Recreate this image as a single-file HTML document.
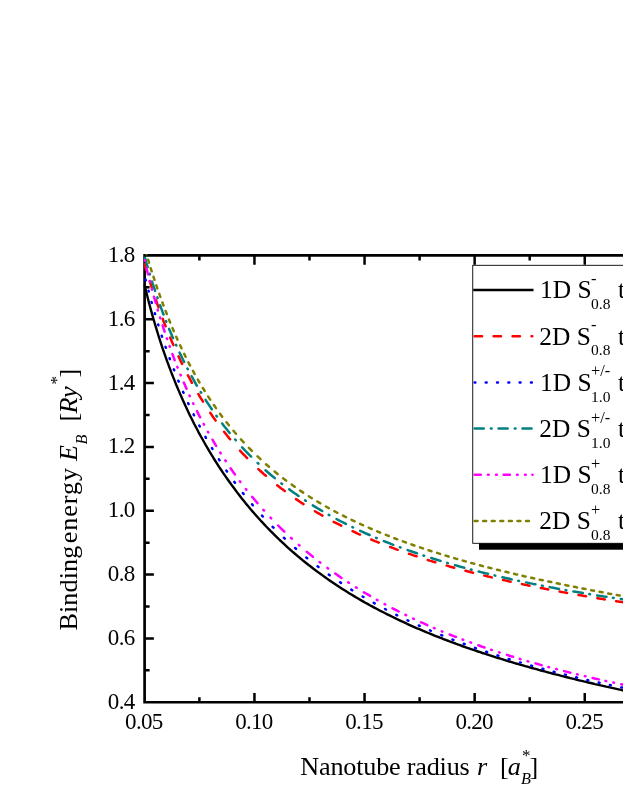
<!DOCTYPE html>
<html><head><meta charset="utf-8"><title>chart</title>
<style>
html,body{margin:0;padding:0;background:#fff;}
body{width:623px;height:806px;overflow:hidden;}
svg{display:block;will-change:transform;}
text{font-family:"Liberation Serif",serif;fill:#000;}
.i{font-style:italic;}
</style></head><body>
<svg width="623" height="806" viewBox="0 0 623 806">
<defs><clipPath id="plot"><rect x="143.3" y="254.2" width="500" height="449.3"/></clipPath></defs>
<g stroke="#000" fill="none" stroke-linecap="butt">
<path d="M143.25,255.45 H700 M143.25,702.25 H700 M144.60,254.10 V703.60" stroke-width="2.70"/>
<path d="M199.40,702.25 v-5.00 M199.40,255.45 v5.00 M254.45,702.25 v-9.30 M254.45,255.45 v9.30 M309.50,702.25 v-5.00 M309.50,255.45 v5.00 M364.55,702.25 v-9.30 M364.55,255.45 v9.30 M419.60,702.25 v-5.00 M419.60,255.45 v5.00 M474.65,702.25 v-9.30 M474.65,255.45 v9.30 M529.70,702.25 v-5.00 M529.70,255.45 v5.00 M584.75,702.25 v-9.30 M584.75,255.45 v9.30 M639.80,702.25 v-5.00 M639.80,255.45 v5.00 M694.85,702.25 v-9.30 M694.85,255.45 v9.30 M749.90,702.25 v-5.00 M749.90,255.45 v5.00 M144.60,670.34 h5.00 M144.60,638.42 h9.30 M144.60,606.51 h5.00 M144.60,574.59 h9.30 M144.60,542.68 h5.00 M144.60,510.76 h9.30 M144.60,478.85 h5.00 M144.60,446.94 h9.30 M144.60,415.02 h5.00 M144.60,383.11 h9.30 M144.60,351.19 h5.00 M144.60,319.28 h9.30 M144.60,287.36 h5.00 " stroke-width="2.50"/>
</g>
<g clip-path="url(#plot)" fill="none" stroke-width="2.50" stroke-linecap="round" stroke-linejoin="round">
<path d="M144.6,285.3 146.9,294.5 149.1,303.2 151.4,311.6 153.6,319.5 155.9,327.2 158.1,334.5 160.4,341.6 162.6,348.3 164.9,354.9 167.1,361.2 169.4,367.3 171.6,373.2 173.9,378.9 176.1,384.5 178.4,389.9 180.6,395.1 182.9,400.2 185.1,405.1 187.4,410.0 189.6,414.7 191.9,419.2 194.1,423.7 196.4,428.0 198.6,432.3 200.9,436.5 203.2,440.5 205.4,444.5 207.7,448.4 209.9,452.2 212.2,455.9 214.4,459.5 216.7,463.1 218.9,466.6 221.2,470.0 223.4,473.3 225.7,476.6 227.9,479.8 230.2,483.0 232.4,486.1 234.7,489.1 236.9,492.1 239.2,495.1 241.4,497.9 243.7,500.8 245.9,503.6 248.2,506.3 250.4,509.0 252.7,511.6 255.0,514.2 257.2,516.7 259.5,519.2 261.7,521.7 264.0,524.1 266.2,526.5 268.5,528.8 270.7,531.1 273.0,533.4 275.2,535.6 277.5,537.8 279.7,540.0 282.0,542.1 284.2,544.2 286.5,546.3 288.7,548.3 291.0,550.3 293.2,552.3 295.5,554.2 297.7,556.1 300.0,558.0 302.2,559.9 304.5,561.7 306.7,563.5 309.0,565.3 311.3,567.0 313.5,568.8 315.8,570.5 318.0,572.1 320.3,573.8 322.5,575.4 324.8,577.0 327.0,578.6 329.3,580.2 331.5,581.7 333.8,583.3 336.0,584.8 338.3,586.3 340.5,587.7 342.8,589.2 345.0,590.6 347.3,592.0 349.5,593.4 351.8,594.8 354.0,596.1 356.3,597.5 358.5,598.8 360.8,600.1 363.0,601.4 365.3,602.7 367.6,603.9 369.8,605.2 372.1,606.4 374.3,607.6 376.6,608.8 378.8,610.0 381.1,611.2 383.3,612.3 385.6,613.5 387.8,614.6 390.1,615.7 392.3,616.8 394.6,617.9 396.8,619.0 399.1,620.1 401.3,621.1 403.6,622.2 405.8,623.2 408.1,624.3 410.3,625.3 412.6,626.3 414.8,627.3 417.1,628.3 419.4,629.2 421.6,630.2 423.9,631.1 426.1,632.1 428.4,633.0 430.6,633.9 432.9,634.9 435.1,635.8 437.4,636.7 439.6,637.5 441.9,638.4 444.1,639.3 446.4,640.2 448.6,641.0 450.9,641.9 453.1,642.7 455.4,643.5 457.6,644.4 459.9,645.2 462.1,646.0 464.4,646.8 466.6,647.6 468.9,648.4 471.1,649.2 473.4,649.9 475.7,650.7 477.9,651.5 480.2,652.2 482.4,653.0 484.7,653.7 486.9,654.4 489.2,655.2 491.4,655.9 493.7,656.6 495.9,657.3 498.2,658.0 500.4,658.7 502.7,659.4 504.9,660.1 507.2,660.8 509.4,661.5 511.7,662.1 513.9,662.8 516.2,663.5 518.4,664.1 520.7,664.8 522.9,665.4 525.2,666.1 527.4,666.7 529.7,667.4 532.0,668.0 534.2,668.6 536.5,669.2 538.7,669.9 541.0,670.5 543.2,671.1 545.5,671.7 547.7,672.3 550.0,672.9 552.2,673.5 554.5,674.1 556.7,674.6 559.0,675.2 561.2,675.8 563.5,676.4 565.7,677.0 568.0,677.5 570.2,678.1 572.5,678.6 574.7,679.2 577.0,679.8 579.2,680.3 581.5,680.8 583.8,681.4 586.0,681.9 588.3,682.5 590.5,683.0 592.8,683.5 595.0,684.1 597.3,684.6 599.5,685.1 601.8,685.6 604.0,686.1 606.3,686.7 608.5,687.2 610.8,687.7 613.0,688.2 615.3,688.7 617.5,689.2 619.8,689.7 622.0,690.2 624.3,690.7 626.5,691.2 628.8,691.7 631.0,692.1 633.3,692.6 635.5,693.1 637.8,693.6" stroke="#000000" stroke-width="2.4"/>
<path d="M144.6,264.2 145.1,266.0 145.7,267.9 146.3,269.8M149.7,281.1 150.3,283.0 150.9,284.9 151.5,286.7 152.1,288.6M155.9,299.9 156.6,301.8 157.2,303.7 157.9,305.6 158.5,307.4M162.7,318.8 163.4,320.7 164.1,322.5 164.9,324.4 165.6,326.3M170.2,337.6 171.0,339.5 171.8,341.4 172.6,343.2 173.4,345.1M178.5,356.4 179.4,358.3 180.3,360.2 181.2,362.1 182.1,363.9M187.9,375.3 188.9,377.1 189.9,379.0 190.9,380.9 191.9,382.8M198.4,394.1 199.5,396.0 200.6,397.8 201.8,399.7 203.0,401.6M210.3,412.9 211.6,414.8 212.9,416.7 214.2,418.6 215.6,420.4M224.1,431.8 225.5,433.6 227.0,435.5 228.6,437.4 230.1,439.3M240.0,450.6 241.7,452.5 243.5,454.3 245.3,456.2 247.1,458.1M258.4,469.1 260.2,470.8 262.1,472.5 264.0,474.2 265.9,475.8M277.2,485.2 279.1,486.7 280.9,488.2 282.8,489.6 284.7,491.0M296.0,499.1 297.9,500.4 299.8,501.7 301.6,502.9 303.5,504.1M314.9,511.2 316.7,512.3 318.6,513.4 320.5,514.5 322.4,515.6M333.7,521.8 335.6,522.8 337.4,523.7 339.3,524.7 341.2,525.7M352.5,531.2 354.4,532.0 356.3,532.9 358.1,533.8 360.0,534.6M371.3,539.5 373.2,540.3 375.1,541.1 377.0,541.8 378.8,542.6M390.2,547.0 392.0,547.7 393.9,548.4 395.8,549.1 397.7,549.8M409.0,553.8 410.9,554.4 412.8,555.1 414.6,555.7 416.5,556.3M427.8,560.0 429.7,560.6 431.6,561.1 433.5,561.7 435.3,562.3M446.7,565.6 448.5,566.1 450.4,566.7 452.3,567.2 454.2,567.7M465.5,570.8 467.4,571.3 469.2,571.8 471.1,572.3 473.0,572.7M484.3,575.6 486.2,576.0 488.1,576.5 489.9,576.9 491.8,577.4M503.1,580.0 505.0,580.4 506.9,580.8 508.8,581.3 510.6,581.7M522.0,584.1 523.9,584.5 525.7,584.9 527.6,585.3 529.5,585.7M540.8,588.0 542.7,588.3 544.6,588.7 546.4,589.1 548.3,589.4M559.6,591.6 561.5,591.9 563.4,592.3 565.3,592.6 567.1,592.9M578.5,595.0 580.3,595.3 582.2,595.6 584.1,595.9 586.0,596.3M597.3,598.2 599.2,598.5 601.0,598.8 602.9,599.1 604.8,599.4M616.1,601.2 618.0,601.5 619.9,601.8 621.8,602.1 623.6,602.3M635.0,604.0 636.4,604.3 637.8,604.5" stroke="#ff0000"/>
<path d="M145.6,279.5 145.8,280.4M148.5,290.7 148.7,291.6M151.5,302.0 151.8,302.9M154.8,313.2 155.0,314.1M158.2,324.4 158.4,325.3M161.7,335.7 162.0,336.6M165.5,346.9 165.9,347.8M169.6,358.2 169.9,359.1M173.8,369.4 174.2,370.3M178.3,380.7 178.7,381.6M183.1,391.9 183.5,392.8M188.2,403.2 188.6,404.1M193.6,414.4 194.0,415.3M199.3,425.6 199.8,426.5M205.4,436.9 205.9,437.8M212.0,448.1 212.5,449.0M218.9,459.4 219.5,460.3M226.4,470.6 227.0,471.5M234.3,481.9 235.0,482.8M242.9,493.1 243.6,494.0M252.1,504.3 252.8,505.2M262.0,515.6 262.8,516.5M272.6,526.8 273.5,527.7M283.9,537.8 284.8,538.6M295.1,548.0 296.0,548.8M306.3,557.5 307.2,558.2M317.6,566.3 318.5,567.0M328.8,574.6 329.7,575.2M340.1,582.3 341.0,582.9M351.3,589.6 352.2,590.2M362.6,596.5 363.5,597.0M373.8,602.9 374.7,603.4M385.1,609.0 385.9,609.5M396.3,614.8 397.2,615.3M407.5,620.3 408.4,620.7M418.8,625.5 419.7,625.9M430.0,630.4 430.9,630.8M441.3,635.1 442.2,635.5M452.5,639.6 453.4,639.9M463.8,643.8 464.7,644.1M475.0,647.9 475.9,648.2M486.2,651.7 487.1,652.0M497.5,655.4 498.4,655.7M508.7,659.0 509.6,659.3M520.0,662.4 520.9,662.6M531.2,665.6 532.1,665.9M542.5,668.7 543.4,669.0M553.7,671.7 554.6,672.0M565.0,674.6 565.9,674.8M576.2,677.3 577.1,677.6M587.4,680.0 588.3,680.2M598.7,682.5 599.6,682.7M609.9,685.0 610.8,685.2M621.2,687.4 622.1,687.5M632.4,689.6 633.3,689.8" stroke="#0000ff"/>
<path d="M145.0,257.8 145.7,260.1 146.3,262.5 147.0,264.8 147.7,267.1M149.7,273.7 149.9,274.4M152.1,281.5 152.8,283.8 153.6,286.2 154.3,288.5 155.1,290.8M157.3,297.4 157.6,298.1M160.1,305.2 160.9,307.5 161.8,309.9 162.6,312.2 163.5,314.5M166.0,321.1 166.3,321.8M169.1,328.9 170.1,331.2 171.1,333.5 172.1,335.9 173.1,338.2M176.0,344.8 176.3,345.5M179.5,352.6 180.7,354.9 181.8,357.2 182.9,359.6 184.1,361.9M187.4,368.5 187.8,369.2M191.6,376.2 192.9,378.6 194.2,380.9 195.5,383.3 196.8,385.6M200.7,392.1 201.2,392.8M205.6,399.9 207.1,402.3 208.7,404.6 210.2,406.9 211.8,409.3M216.4,415.8 216.9,416.5M222.2,423.6 224.0,426.0 225.9,428.3 227.7,430.6 229.6,433.0M235.2,439.5 235.8,440.2M242.1,447.3 244.3,449.7 246.5,452.0 248.8,454.3 251.1,456.7M257.7,463.0 258.4,463.7M265.5,470.2 267.8,472.2 270.1,474.2 272.5,476.2 274.8,478.1M281.4,483.4 282.1,483.9M289.2,489.3 291.5,491.0 293.8,492.7 296.2,494.3 298.5,496.0M305.1,500.4 305.8,500.8M312.8,505.4 315.2,506.8 317.5,508.2 319.9,509.6 322.2,511.0M328.7,514.8 329.4,515.2M336.5,519.0 338.9,520.3 341.2,521.5 343.5,522.7 345.9,523.9M352.4,527.1 353.1,527.5M360.2,530.8 362.6,531.9 364.9,533.0 367.2,534.0 369.6,535.0M376.1,537.8 376.8,538.1M383.9,541.1 386.2,542.0 388.6,542.9 390.9,543.9 393.3,544.8M399.8,547.2 400.5,547.5M407.6,550.1 409.9,550.9 412.3,551.7 414.6,552.5 417.0,553.3M423.5,555.5 424.2,555.8M431.3,558.0 433.6,558.8 436.0,559.5 438.3,560.2 440.6,560.9M447.2,562.9 447.9,563.1M455.0,565.1 457.3,565.8 459.7,566.5 462.0,567.1 464.3,567.7M470.9,569.5 471.6,569.7M478.7,571.5 481.0,572.1 483.3,572.7 485.7,573.3 488.0,573.8M494.6,575.4 495.3,575.6M502.4,577.2 504.7,577.8 507.0,578.3 509.4,578.8 511.7,579.4M518.3,580.8 519.0,580.9M526.1,582.4 528.4,582.9 530.7,583.4 533.1,583.9 535.4,584.3M542.0,585.6 542.7,585.8M549.7,587.1 552.1,587.6 554.4,588.0 556.8,588.5 559.1,588.9M565.6,590.1 566.3,590.2M573.4,591.4 575.8,591.8 578.1,592.2 580.4,592.6 582.8,593.0M589.3,594.1 590.0,594.2M597.1,595.4 599.5,595.8 601.8,596.1 604.1,596.5 606.5,596.8M613.0,597.8 613.7,597.9M620.8,599.0 623.1,599.3 625.5,599.7 627.8,600.0 630.2,600.3M636.7,601.3 637.4,601.3" stroke="#008080"/>
<path d="M144.6,260.3 144.8,261.0M146.5,268.2 147.0,270.3 147.5,272.3 148.1,274.4M149.8,281.1 150.0,281.8M151.8,288.9 152.0,289.6M154.0,296.8 154.6,298.8 155.2,300.9 155.8,303.0M157.7,309.7 157.9,310.4M160.1,317.5 160.3,318.2M162.6,325.4 163.2,327.4 163.9,329.5 164.6,331.6M166.8,338.3 167.1,339.0M169.5,346.1 169.8,346.8M172.4,354.0 173.2,356.0 173.9,358.1 174.7,360.2M177.3,366.9 177.6,367.6M180.5,374.7 180.8,375.4M183.8,382.6 184.7,384.6 185.6,386.7 186.5,388.8M189.5,395.5 189.8,396.2M193.1,403.3 193.5,404.0M197.0,411.1 198.0,413.2 199.1,415.3 200.1,417.3M203.7,424.0 204.0,424.7M207.9,431.8 208.3,432.5M212.5,439.7 213.7,441.8 214.9,443.9 216.1,445.9M220.3,452.6 220.7,453.3M225.3,460.4 225.8,461.1M230.6,468.3 232.1,470.4 233.5,472.5 235.0,474.5M239.9,481.2 240.4,481.9M245.9,489.0 246.4,489.7M252.2,496.9 254.0,499.0 255.7,501.0 257.5,503.1M263.3,509.8 264.0,510.5M270.5,517.6 271.2,518.3M278.2,525.5 280.2,527.6 282.3,529.6 284.3,531.6M291.0,537.9 291.8,538.6M298.8,544.9 299.5,545.5M306.7,551.7 308.8,553.4 310.9,555.1 312.9,556.8M319.6,562.0 320.3,562.6M327.4,567.9 328.1,568.4M335.3,573.6 337.4,575.1 339.5,576.5 341.5,577.9M348.2,582.4 348.9,582.8M356.0,587.4 356.7,587.8M363.9,592.3 366.0,593.5 368.1,594.7 370.1,595.9M376.8,599.8 377.5,600.2M384.6,604.1 385.3,604.5M392.5,608.3 394.6,609.4 396.6,610.4 398.7,611.5M405.4,614.8 406.1,615.2M413.2,618.6 413.9,618.9M421.1,622.3 423.2,623.2 425.2,624.1 427.3,625.1M434.0,628.0 434.7,628.3M441.8,631.3 442.5,631.6M449.7,634.5 451.8,635.3 453.8,636.1 455.9,637.0M462.6,639.5 463.3,639.8M470.4,642.4 471.1,642.7M478.3,645.3 480.3,646.0 482.4,646.8 484.5,647.5M491.2,649.8 491.9,650.0M499.0,652.3 499.7,652.6M506.9,654.9 508.9,655.5 511.0,656.2 513.1,656.8M519.8,658.9 520.5,659.1M527.6,661.2 528.3,661.4M535.5,663.4 537.5,664.0 539.6,664.6 541.7,665.2M548.4,667.0 549.1,667.2M556.2,669.1 556.9,669.2M564.1,671.1 566.1,671.6 568.2,672.1 570.3,672.7M577.0,674.3 577.7,674.5M584.8,676.2 585.5,676.3M592.6,678.0 594.7,678.5 596.8,678.9 598.8,679.4M605.5,680.9 606.2,681.1M613.3,682.6 614.0,682.7M621.2,684.2 623.3,684.7 625.4,685.1 627.4,685.5M634.1,686.9 634.8,687.0" stroke="#ff00ff"/>
<path d="M145.6,251.2 146.0,252.7 146.5,254.2M148.1,259.7 148.6,261.2 149.0,262.7M150.7,268.3 151.2,269.8 151.7,271.3M153.5,276.8 154.0,278.3 154.5,279.8M156.3,285.4 156.8,286.9 157.3,288.4M159.3,293.9 159.8,295.4 160.4,296.9M162.4,302.5 162.9,304.0 163.5,305.5M165.6,311.0 166.2,312.5 166.8,314.0M169.0,319.6 169.6,321.1 170.2,322.6M172.5,328.1 173.1,329.6 173.8,331.1M176.2,336.7 176.9,338.2 177.5,339.7M180.1,345.3 180.8,346.8 181.5,348.3M184.2,353.8 184.9,355.3 185.6,356.8M188.4,362.4 189.2,363.9 190.0,365.4M193.0,370.9 193.8,372.4 194.6,373.9M197.8,379.5 198.6,381.0 199.5,382.5M202.8,388.0 203.8,389.5 204.7,391.0M208.2,396.6 209.2,398.1 210.2,399.6M213.9,405.1 215.0,406.6 216.0,408.1M220.0,413.7 221.1,415.2 222.2,416.7M226.5,422.2 227.7,423.7 228.9,425.2M233.5,430.8 234.7,432.3 236.0,433.8M240.9,439.3 242.3,440.8 243.7,442.3M248.9,447.9 250.4,449.4 251.9,450.9M257.5,456.3 259.0,457.7 260.5,459.1M266.0,464.2 267.5,465.5 269.0,466.8M274.6,471.5 276.1,472.7 277.6,473.9M283.1,478.3 284.6,479.4 286.1,480.6M291.7,484.6 293.2,485.7 294.7,486.8M300.2,490.6 301.7,491.6 303.2,492.6M308.8,496.2 310.3,497.2 311.8,498.1M317.3,501.5 318.8,502.4 320.3,503.3M325.9,506.5 327.4,507.3 328.9,508.2M334.4,511.2 335.9,512.0 337.4,512.8M343.0,515.6 344.5,516.4 346.0,517.1M351.6,519.9 353.1,520.6 354.6,521.3M360.1,523.9 361.6,524.6 363.1,525.2M368.7,527.7 370.2,528.4 371.7,529.0M377.2,531.4 378.7,532.0 380.2,532.6M385.8,534.8 387.3,535.4 388.8,536.0M394.3,538.2 395.8,538.7 397.3,539.3M402.9,541.4 404.4,541.9 405.9,542.5M411.4,544.4 412.9,545.0 414.4,545.5M420.0,547.4 421.5,547.9 423.0,548.4M428.5,550.2 430.0,550.7 431.5,551.2M437.1,552.9 438.6,553.4 440.1,553.9M445.6,555.6 447.1,556.0 448.6,556.5M454.2,558.1 455.7,558.6 457.2,559.0M462.8,560.6 464.3,561.0 465.8,561.4M471.3,563.0 472.8,563.4 474.3,563.8M479.9,565.3 481.4,565.7 482.9,566.1M488.4,567.5 489.9,567.9 491.4,568.3M497.0,569.7 498.5,570.0 500.0,570.4M505.5,571.8 507.0,572.1 508.5,572.5M514.1,573.8 515.6,574.2 517.1,574.5M522.6,575.8 524.1,576.2 525.6,576.5M531.2,577.8 532.7,578.1 534.2,578.4M539.7,579.7 541.2,580.0 542.7,580.3M548.3,581.5 549.8,581.8 551.3,582.1M556.8,583.3 558.3,583.6 559.8,583.9M565.4,585.1 566.9,585.4 568.4,585.7M574.0,586.8 575.5,587.1 577.0,587.4M582.5,588.5 584.0,588.8 585.5,589.1M591.1,590.2 592.6,590.4 594.1,590.7M599.6,591.8 601.1,592.1 602.6,592.3M608.2,593.4 609.7,593.7 611.2,593.9M616.7,594.9 618.2,595.2 619.7,595.5M625.3,596.5 626.8,596.7 628.3,597.0M633.8,598.0 635.3,598.2 636.8,598.5" stroke="#808000"/>
</g>
<g font-size="23px" letter-spacing="-0.7">
<text x="134.5" y="708.65" text-anchor="end">0.4</text>
<text x="134.5" y="644.82" text-anchor="end">0.6</text>
<text x="134.5" y="580.99" text-anchor="end">0.8</text>
<text x="134.5" y="517.16" text-anchor="end">1.0</text>
<text x="134.5" y="453.34" text-anchor="end">1.2</text>
<text x="134.5" y="389.51" text-anchor="end">1.4</text>
<text x="134.5" y="325.68" text-anchor="end">1.6</text>
<text x="134.5" y="261.85" text-anchor="end">1.8</text>
<text x="143.85" y="728.5" text-anchor="middle">0.05</text>
<text x="253.95" y="728.5" text-anchor="middle">0.10</text>
<text x="364.05" y="728.5" text-anchor="middle">0.15</text>
<text x="474.15" y="728.5" text-anchor="middle">0.20</text>
<text x="584.25" y="728.5" text-anchor="middle">0.25</text>
</g>
<g font-size="26.2px">
<text x="300.30" y="774.8" letter-spacing="-0.210">Nanotube radius</text>
<text x="477.00" y="774.8" class="i">r</text>
<text x="500.00" y="774.8">[</text>
<text x="507.80" y="774.8" class="i">a</text>
<text x="520.90" y="784.4" font-size="16.3px" class="i">B</text>
<text x="522.00" y="760.60" font-size="17.0px">*</text>
<text x="529.50" y="774.8">]</text>
</g>
<g transform="translate(76.7,630.60) rotate(-90)" font-size="26.2px">
<text x="0" y="0" letter-spacing="0.080">Binding</text>
<text x="87.30" y="0" letter-spacing="0.900">energy</text>
<text x="169.50" y="0" class="i">E</text>
<text x="186.20" y="10" font-size="16.3px" class="i">B</text>
<text x="209.00" y="0">[</text>
<text x="217.00" y="0" class="i">Ry</text>
<text x="246.00" y="-14.60" font-size="17.0px">*</text>
<text x="253.00" y="0">]</text>
</g>
<rect x="479" y="271.30" width="200" height="278.40" fill="#000"/>
<rect x="472.75" y="265.30" width="200" height="278.00" fill="#fff" stroke="#000" stroke-width="0.9"/>
<g fill="none" stroke-width="2.50" stroke-linecap="round">
<path d="M473.2,290.00 H533.50" stroke="#000" stroke-linecap="butt" stroke-width="2.5"/>
<path d="M474.65,336.30H482.00M493.61,336.30H500.96M512.57,336.30H519.92M531.53,336.30H532.25" stroke="#ff0000"/>
<path d="M474.65,382.50H475.35M485.75,382.50H486.65M497.05,382.50H497.95M508.35,382.50H509.25M519.65,382.50H520.55M530.95,382.50H531.85" stroke="#0000ff"/>
<path d="M474.65,428.60H483.75M490.90,428.60H491.60M498.55,428.60H507.65M514.80,428.60H515.50M522.45,428.60H531.55" stroke="#008080"/>
<path d="M474.65,474.80H480.85M487.95,474.80H488.65M496.05,474.80H496.75M503.65,474.80H509.85M516.95,474.80H517.65M525.05,474.80H525.75M532.35,474.80H532.55" stroke="#ff00ff"/>
<path d="M474.65,520.90H477.55M483.21,520.90H486.11M491.77,520.90H494.67M500.33,520.90H503.23M508.89,520.90H511.79M517.45,520.90H520.35M526.01,520.90H528.91" stroke="#808000"/>
</g>
<text x="540.1" y="298.30" font-size="25.4px">1D S</text>
<text x="591" y="309.10" font-size="15.5px">0.8</text>
<text x="591" y="283.90" font-size="16.4px">-</text>
<text x="617.9" y="298.30" font-size="25.4px">the</text>
<text x="539.3" y="344.60" font-size="25.4px">2D S</text>
<text x="591" y="355.40" font-size="15.5px">0.8</text>
<text x="591" y="330.20" font-size="16.4px">-</text>
<text x="617.9" y="344.60" font-size="25.4px">the</text>
<text x="540.1" y="390.80" font-size="25.4px">1D S</text>
<text x="591" y="401.60" font-size="15.5px">1.0</text>
<text x="591" y="376.40" font-size="16.4px">+/-</text>
<text x="617.9" y="390.80" font-size="25.4px">the</text>
<text x="539.3" y="436.90" font-size="25.4px">2D S</text>
<text x="591" y="447.70" font-size="15.5px">1.0</text>
<text x="591" y="422.50" font-size="16.4px">+/-</text>
<text x="617.9" y="436.90" font-size="25.4px">the</text>
<text x="540.1" y="483.10" font-size="25.4px">1D S</text>
<text x="591" y="493.90" font-size="15.5px">0.8</text>
<text x="591" y="468.70" font-size="16.4px">+</text>
<text x="617.9" y="483.10" font-size="25.4px">the</text>
<text x="539.3" y="529.20" font-size="25.4px">2D S</text>
<text x="591" y="540.00" font-size="15.5px">0.8</text>
<text x="591" y="514.80" font-size="16.4px">+</text>
<text x="617.9" y="529.20" font-size="25.4px">the</text>
</svg>
</body></html>
